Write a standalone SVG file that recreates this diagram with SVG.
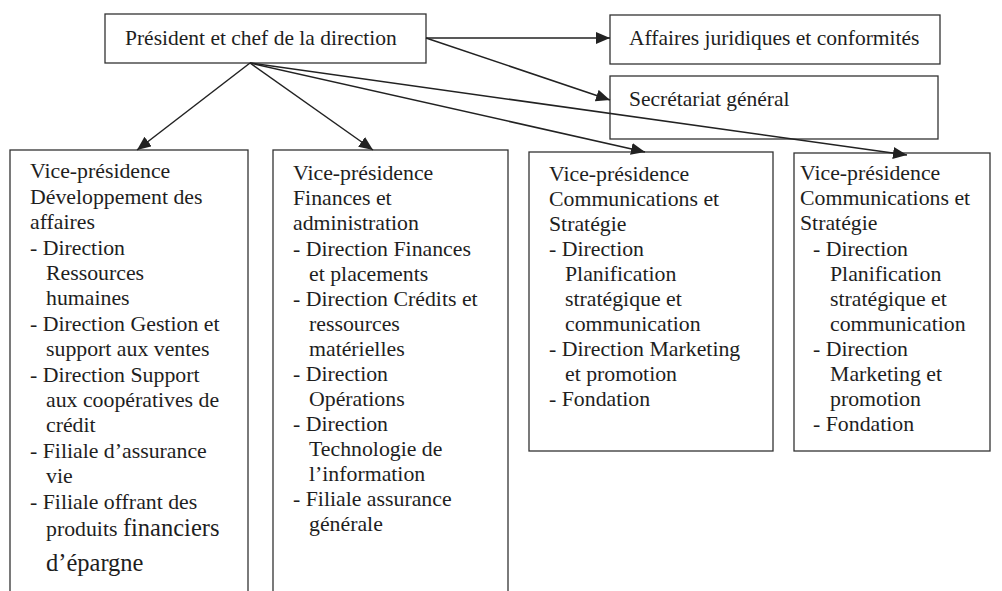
<svg xmlns="http://www.w3.org/2000/svg" width="1002" height="591" viewBox="0 0 1002 591">
  <style>
    .box { fill: none; stroke: #333; stroke-width: 1.3; }
    .t { font-family: "Liberation Serif", "Times New Roman", serif; font-size: 21.8px; fill: #1e1e1e; }
    .head { font-size: 21.5px; }
    .big { font-size: 24.5px; }
    .link { fill: none; stroke: #222; stroke-width: 1.5; marker-end: url(#arrow); }
  </style>
  <defs>
    <marker id="arrow" markerUnits="userSpaceOnUse" markerWidth="16" markerHeight="13" refX="14" refY="6" orient="auto">
      <path d="M0,0 L14,6 L0,12 z" fill="#222"/>
    </marker>
  </defs>
  <rect width="1002" height="591" fill="#fff"/>

  <!-- Top level -->
  <g id="president">
    <rect class="box" x="105" y="14" width="321" height="49"/>
    <text class="t head" x="125" y="45">Président et chef de la direction</text>
  </g>

  <g id="affaires-juridiques">
    <rect class="box" x="610" y="15" width="330" height="49"/>
    <text class="t head" x="629" y="45">Affaires juridiques et conformités</text>
  </g>

  <g id="secretariat">
    <rect class="box" x="610" y="76" width="328" height="63"/>
    <text class="t head" x="629" y="106">Secrétariat général</text>
  </g>

  <!-- Vice-presidencies -->
  <g id="vp-developpement">
    <rect class="box" x="10" y="150" width="238" height="460"/>
    <text class="t">
      <tspan x="30" y="178">Vice-présidence</tspan>
      <tspan x="30" y="203.5">Développement des</tspan>
      <tspan x="30" y="229">affaires</tspan>
      <tspan x="30" y="254.5">-  Direction</tspan>
      <tspan x="46" y="280">Ressources</tspan>
      <tspan x="46" y="305">humaines</tspan>
      <tspan x="30" y="330.5">-  Direction Gestion et</tspan>
      <tspan x="46" y="356">support aux ventes</tspan>
      <tspan x="30" y="381.5">-  Direction Support</tspan>
      <tspan x="46" y="407">aux coopératives de</tspan>
      <tspan x="46" y="432">crédit</tspan>
      <tspan x="30" y="457.5">-  Filiale d’assurance</tspan>
      <tspan x="46" y="482.5">vie</tspan>
      <tspan x="30" y="508.5">-  Filiale offrant des</tspan>
      <tspan x="46" y="536">produits <tspan class="big">financiers</tspan></tspan>
      <tspan x="46" y="571" class="big">d’épargne</tspan>
    </text>
  </g>

  <g id="vp-finances">
    <rect class="box" x="273" y="150" width="235" height="460"/>
    <text class="t">
      <tspan x="293" y="180">Vice-présidence</tspan>
      <tspan x="293" y="205">Finances et</tspan>
      <tspan x="293" y="230">administration</tspan>
      <tspan x="293" y="256">-  Direction Finances</tspan>
      <tspan x="309" y="281">et placements</tspan>
      <tspan x="293" y="306">-  Direction Crédits et</tspan>
      <tspan x="309" y="331">ressources</tspan>
      <tspan x="309" y="356">matérielles</tspan>
      <tspan x="293" y="381">-  Direction</tspan>
      <tspan x="309" y="406">Opérations</tspan>
      <tspan x="293" y="431">-  Direction</tspan>
      <tspan x="309" y="456">Technologie de</tspan>
      <tspan x="309" y="481">l’information</tspan>
      <tspan x="293" y="506">-  Filiale assurance</tspan>
      <tspan x="309" y="531">générale</tspan>
    </text>
  </g>

  <g id="vp-communications-1">
    <rect class="box" x="529" y="152" width="244" height="299"/>
    <text class="t">
      <tspan x="549" y="181">Vice-présidence</tspan>
      <tspan x="549" y="206">Communications et</tspan>
      <tspan x="549" y="231">Stratégie</tspan>
      <tspan x="549" y="256">-  Direction</tspan>
      <tspan x="565" y="281">Planification</tspan>
      <tspan x="565" y="306">stratégique et</tspan>
      <tspan x="565" y="331">communication</tspan>
      <tspan x="549" y="356">-  Direction Marketing</tspan>
      <tspan x="565" y="381">et promotion</tspan>
      <tspan x="549" y="406">-  Fondation</tspan>
    </text>
  </g>

  <g id="vp-communications-2">
    <rect class="box" x="794" y="153" width="196" height="298"/>
    <text class="t">
      <tspan x="800" y="180">Vice-présidence</tspan>
      <tspan x="800" y="205">Communications et</tspan>
      <tspan x="800" y="230">Stratégie</tspan>
      <tspan x="813" y="256">-  Direction</tspan>
      <tspan x="830" y="281">Planification</tspan>
      <tspan x="830" y="306">stratégique et</tspan>
      <tspan x="830" y="331">communication</tspan>
      <tspan x="813" y="356">-  Direction</tspan>
      <tspan x="830" y="381">Marketing et</tspan>
      <tspan x="830" y="406">promotion</tspan>
      <tspan x="813" y="431">-  Fondation</tspan>
    </text>
  </g>

  <!-- Reporting lines -->
  <g id="connectors">
    <line class="link" x1="426" y1="38" x2="610" y2="38"/>
    <line class="link" x1="426" y1="38" x2="610" y2="100"/>
    <line class="link" x1="250" y1="63" x2="137" y2="150"/>
    <line class="link" x1="250" y1="63" x2="373" y2="150"/>
    <line class="link" x1="250" y1="63" x2="645" y2="152"/>
    <line class="link" x1="250" y1="63" x2="907" y2="155"/>
  </g>
</svg>
